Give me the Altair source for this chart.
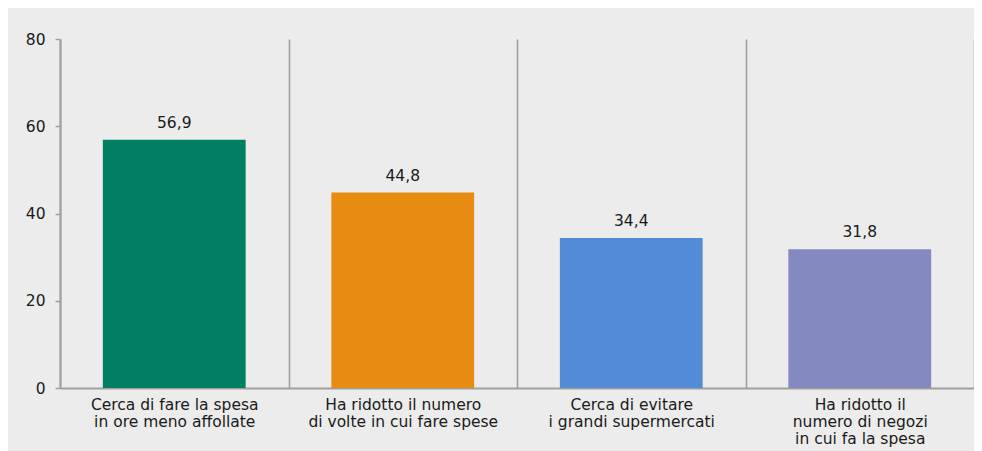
import altair as alt
import pandas as pd

categories = [
    "Cerca di fare la spesa|in ore meno affollate",
    "Ha ridotto il numero|di volte in cui fare spese",
    "Cerca di evitare|i grandi supermercati",
    "Ha ridotto il|numero di negozi|in cui fa la spesa",
]
values = [56.9, 44.8, 34.4, 31.8]
colors = ["#007f62", "#e88b13", "#528cd6", "#8489bf"]

df = pd.DataFrame({"cat": categories, "val": values})

FONT = "DejaVu Sans"
FS = 15.5
GRID = "#a0a0a0"

base = alt.Chart(df).transform_calculate(
    label="replace(format(datum.val, '.1f'), '.', ',')"
)

x = alt.X(
    "cat:N",
    sort=categories,
    title=None,
    scale=alt.Scale(paddingInner=0, paddingOuter=0),
    axis=alt.Axis(
        labelAngle=0,
        labelExpr="split(datum.label, '|')",
        labelLimit=400,
        tickBand="extent",
        grid=True,
        gridColor=GRID,
        gridWidth=1.6,
        ticks=False,
        domainColor=GRID,
        domainWidth=2,
        labelFont=FONT,
        labelFontSize=FS,
        labelColor="#1a1a1a",
        labelPadding=9,
        labelLineHeight=17,
    ),
)

y = alt.Y(
    "val:Q",
    title=None,
    scale=alt.Scale(domain=[0, 80], nice=False),
    axis=alt.Axis(
        values=[0, 20, 40, 60, 80],
        grid=False,
        domainColor=GRID,
        domainWidth=2,
        tickColor=GRID,
        tickWidth=1.5,
        tickSize=5,
        labelPadding=10,
        labelFont=FONT,
        labelFontSize=FS,
        labelColor="#1a1a1a",
    ),
)

bars = base.mark_bar(width=alt.RelativeBandSize(0.625)).encode(
    x=x,
    y=y,
    color=alt.Color("cat:N", scale=alt.Scale(domain=categories, range=colors), legend=None),
)

text = base.mark_text(dy=-12, baseline="alphabetic", fontSize=FS, font=FONT, color="#1a1a1a").encode(
    x=alt.X("cat:N", sort=categories),
    y=alt.Y("val:Q"),
    text="label:N",
)

chart = (
    alt.layer(bars, text)
    .properties(
        width=914,
        height=349,
        autosize=alt.AutoSizeParams(type="none"),
        padding={"left": 52, "top": 31, "right": 0, "bottom": 63},
        background="#ececec",
    )
    .configure_view(stroke=None)
)

chart.save("out.html", embed_options={"renderer": "svg", "actions": False})
